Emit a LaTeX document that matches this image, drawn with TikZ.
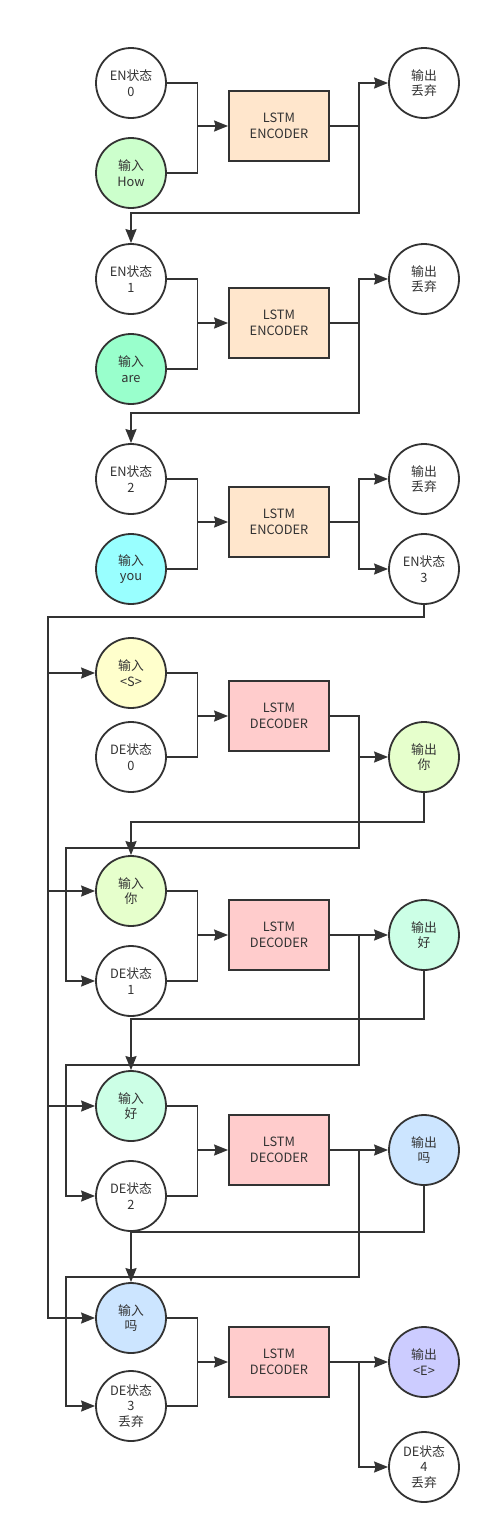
\documentclass[tikz,border=0pt]{standalone}
\usepackage{fontspec}
\setmainfont{Noto Sans CJK SC}
\usetikzlibrary{calc,arrows.meta}
\definecolor{ink}{HTML}{333333}
\definecolor{encfill}{HTML}{FFE6CC}
\definecolor{decfill}{HTML}{FFCCCC}
\definecolor{inHow}{HTML}{CCFFCC}
\definecolor{inAre}{HTML}{99FFCC}
\definecolor{inYou}{HTML}{99FFFF}
\definecolor{inS}{HTML}{FFFFCC}
\definecolor{wNi}{HTML}{E6FFCC}
\definecolor{wHao}{HTML}{CCFFE6}
\definecolor{wMa}{HTML}{CCE5FF}
\definecolor{wE}{HTML}{CCCCFF}
\begin{document}
\begin{tikzpicture}[x=1pt,y=-1pt,line width=1.8pt,color=ink,
  state/.style={circle,draw,fill=white,minimum size=70pt,inner sep=0pt,align=center,
    font=\fontsize{12.8pt}{15.5pt}\selectfont},
  lstm/.style={rectangle,draw,minimum width=100pt,minimum height=70pt,align=center,
    font=\fontsize{12.8pt}{15.5pt}\selectfont},
  arr/.style={-{Stealth[length=14pt,width=11pt,inset=1.5pt]}}]
  \useasboundingbox (0,0) rectangle (491,1534);
  % encoder
  \node[state] (es0) at (131,83) {EN状态\\0};
  \node[state,fill=inHow] (in0) at (131,173) {输入\\How};
  \node[lstm,fill=encfill] (enc0) at (279,126) {LSTM\\ENCODER};
  \node[state] (out0) at (424,83) {输出\\丢弃};
  \node[state] (es1) at (131,279) {EN状态\\1};
  \node[state,fill=inAre] (in1) at (131,369) {输入\\are};
  \node[lstm,fill=encfill] (enc1) at (279,323) {LSTM\\ENCODER};
  \node[state] (out1) at (424,279) {输出\\丢弃};
  \node[state] (es2) at (131,479) {EN状态\\2};
  \node[state,fill=inYou] (in2) at (131,569) {输入\\you};
  \node[lstm,fill=encfill] (enc2) at (279,522) {LSTM\\ENCODER};
  \node[state] (out2) at (424,479) {输出\\丢弃};
  \node[state] (es3) at (424,569) {EN状态\\3};
  % decoder
  \node[state,fill=inS] (di0) at (131,673) {输入\\<S>};
  \node[state] (ds0) at (131,757) {DE状态\\0};
  \node[lstm,fill=decfill] (dec0) at (279,716) {LSTM\\DECODER};
  \node[state,fill=wNi] (do0) at (424,757) {输出\\你};
  \node[state,fill=wNi] (di1) at (131,891) {输入\\你};
  \node[state] (ds1) at (131,981) {DE状态\\1};
  \node[lstm,fill=decfill] (dec1) at (279,935) {LSTM\\DECODER};
  \node[state,fill=wHao] (do1) at (424,935) {输出\\好};
  \node[state,fill=wHao] (di2) at (131,1106) {输入\\好};
  \node[state] (ds2) at (131,1196) {DE状态\\2};
  \node[lstm,fill=decfill] (dec2) at (279,1150) {LSTM\\DECODER};
  \node[state,fill=wMa] (do2) at (424,1150) {输出\\吗};
  \node[state,fill=wMa] (di3) at (131,1318) {输入\\吗};
  \node[state] (ds3) at (131,1406) {DE状态\\3\\丢弃};
  \node[lstm,fill=decfill] (dec3) at (279,1362) {LSTM\\DECODER};
  \node[state,fill=wE] (do3) at (424,1362) {输出\\<E>};
  \node[state] (ds4) at (424,1467) {DE状态\\4\\丢弃};
  % junctions
  \coordinate (ja0) at ($(es0.east)!.5!(enc0.west)$);
  \coordinate (jb0) at ($(enc0.east)!.5!(out0.west)$);
  \coordinate (ja1) at ($(es1.east)!.5!(enc1.west)$);
  \coordinate (jb1) at ($(enc1.east)!.5!(out1.west)$);
  \coordinate (ja2) at ($(es2.east)!.5!(enc2.west)$);
  \coordinate (jb2) at ($(enc2.east)!.5!(out2.west)$);
  \coordinate (ja3) at ($(di0.east)!.5!(dec0.west)$);
  \coordinate (jb3) at ($(dec0.east)!.5!(do0.west)$);
  \coordinate (ja4) at ($(di1.east)!.5!(dec1.west)$);
  \coordinate (jb4) at ($(dec1.east)!.5!(do1.west)$);
  \coordinate (ja5) at ($(di2.east)!.5!(dec2.west)$);
  \coordinate (jb5) at ($(dec2.east)!.5!(do2.west)$);
  \coordinate (ja6) at ($(di3.east)!.5!(dec3.west)$);
  \coordinate (jb6) at ($(dec3.east)!.5!(do3.west)$);
  \coordinate (bus) at (48,617);
  \coordinate (sb1) at (66,848);
  \coordinate (sb2) at (66,1065);
  \coordinate (sb3) at (66,1277);
  % encoder connectors
  \draw (es0.east) -| (ja0) |- (in0.east);
  \draw[arr] (ja0 |- enc0.west) -- (enc0.west);
  \draw[arr] (enc0.east) -| (jb0) |- (out0.west);
  \draw[arr] (jb0) |- ([yshift=30pt]es1.north) -- (es1.north);
  \draw (es1.east) -| (ja1) |- (in1.east);
  \draw[arr] (ja1 |- enc1.west) -- (enc1.west);
  \draw[arr] (enc1.east) -| (jb1) |- (out1.west);
  \draw[arr] (jb1) |- ([yshift=30pt]es2.north) -- (es2.north);
  \draw (es2.east) -| (ja2) |- (in2.east);
  \draw[arr] (ja2 |- enc2.west) -- (enc2.west);
  \draw[arr] (enc2.east) -| (jb2) |- (out2.west);
  \draw[arr] (jb2) |- (es3.west);
  % context bus
  \draw[arr] (es3.south) |- (bus) |- (di3.west);
  \draw[arr] (bus |- di0.west) -- (di0.west);
  \draw[arr] (bus |- di1.west) -- (di1.west);
  \draw[arr] (bus |- di2.west) -- (di2.west);
  % decoder connectors
  \draw (di0.east) -| (ja3) |- (ds0.east);
  \draw[arr] (ja3 |- dec0.west) -- (dec0.west);
  \draw[arr] (dec0.east) -| (jb3) |- (do0.west);
  \draw[arr] (jb3) |- (sb1) |- (ds1.west);
  \draw[arr] (do0.south) |- ([yshift=33pt]di1.north) -- (di1.north);
  \draw (di1.east) -| (ja4) |- (ds1.east);
  \draw[arr] (ja4 |- dec1.west) -- (dec1.west);
  \draw[arr] (dec1.east) -- (do1.west);
  \draw[arr] (jb4) |- (sb2) |- (ds2.west);
  \draw[arr] (do1.south) |- ([yshift=51pt]di2.north) -- (di2.north);
  \draw (di2.east) -| (ja5) |- (ds2.east);
  \draw[arr] (ja5 |- dec2.west) -- (dec2.west);
  \draw[arr] (dec2.east) -- (do2.west);
  \draw[arr] (jb5) |- (sb3) |- (ds3.west);
  \draw[arr] (do2.south) |- ([yshift=50pt]di3.north) -- (di3.north);
  \draw (di3.east) -| (ja6) |- (ds3.east);
  \draw[arr] (ja6 |- dec3.west) -- (dec3.west);
  \draw[arr] (dec3.east) -- (do3.west);
  \draw[arr] (jb6) |- (ds4.west);
\end{tikzpicture}
\end{document}
